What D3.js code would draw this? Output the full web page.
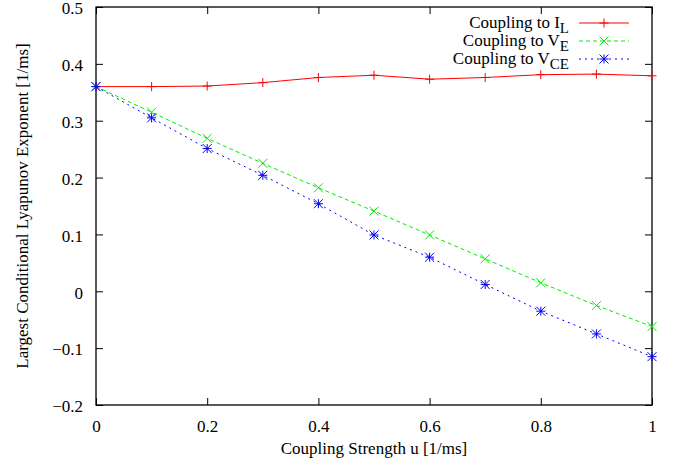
<!DOCTYPE html>
<html>
<head>
<meta charset="utf-8">
<script src="https://cdn.jsdelivr.net/npm/d3@7"></script>
<style>
  body { margin: 0; background: #fff; }
</style>
</head>
<body>
<div id="chart"></div>
<script>
// data
const uValues = [0, 0.1, 0.2, 0.3, 0.4, 0.5, 0.6, 0.7, 0.8, 0.9, 1.0];
const couplingIL = [0.360, 0.360, 0.361, 0.367, 0.376, 0.380, 0.373, 0.376, 0.381, 0.382, 0.379];
const couplingVE = [0.360, 0.315, 0.269, 0.225, 0.182, 0.141, 0.099, 0.057, 0.015, -0.025, -0.062];
const couplingVCE = [0.360, 0.305, 0.251, 0.204, 0.154, 0.099, 0.060, 0.012, -0.035, -0.075, -0.115];
const xTicks = [0, 0.2, 0.4, 0.6, 0.8, 1];
const yTicks = [-0.2, -0.1, 0, 0.1, 0.2, 0.3, 0.4, 0.5];

const width = 673, height = 465;
const margin = { top: 7, right: 21, bottom: 60, left: 96 };
const FONT = "'Liberation Serif', 'Times New Roman', serif";
const fontSize = 17;

const svg = d3.select("#chart")
  .append("svg")
  .attr("width", width)
  .attr("height", height);

const x = d3.scaleLinear().domain([0, 1]).range([margin.left, width - margin.right]);
const y = d3.scaleLinear().domain([-0.2, 0.5]).range([height - margin.bottom, margin.top]);

const tickLen = 7;

// ticks on all four sides (gnuplot mirrors them)
svg.append("g")
  .attr("transform", `translate(0,${y(-0.2)})`)
  .call(d3.axisBottom(x).tickValues(xTicks).tickSizeInner(-tickLen).tickSizeOuter(0).tickPadding(15)
    .tickFormat(d => d === 0 || d === 1 ? d3.format("d")(d) : d3.format(".1f")(d)))
  .attr("font-family", FONT).attr("font-size", fontSize)
  .call(g => g.select(".domain").remove())
  .call(g => g.selectAll("text").style("font-family", FONT).style("font-size", fontSize + "px").attr("fill", "#000"));

svg.append("g")
  .attr("transform", `translate(0,${y(0.5)})`)
  .call(d3.axisTop(x).tickValues(xTicks).tickSizeInner(-tickLen).tickSizeOuter(0).tickFormat(""))
  .call(g => g.select(".domain").remove());

svg.append("g")
  .attr("transform", `translate(${x(0)},0)`)
  .call(d3.axisLeft(y).tickValues(yTicks).tickSizeInner(-tickLen).tickSizeOuter(0).tickPadding(13)
    .tickFormat(d => Math.abs(d) < 1e-9 ? "0" : d3.format(".1f")(d)))
  .attr("font-family", FONT).attr("font-size", fontSize)
  .call(g => g.select(".domain").remove())
  .call(g => g.selectAll("text").attr("dy", "0.4em")
    .style("font-family", FONT).style("font-size", fontSize + "px").attr("fill", "#000"));

svg.append("g")
  .attr("transform", `translate(${x(1)},0)`)
  .call(d3.axisRight(y).tickValues(yTicks).tickSizeInner(-tickLen).tickSizeOuter(0).tickFormat(""))
  .call(g => g.select(".domain").remove());

svg.selectAll(".tick line").attr("stroke", "#000");

// border
svg.append("rect")
  .attr("x", x(0)).attr("y", y(0.5))
  .attr("width", x(1) - x(0)).attr("height", y(-0.2) - y(0.5))
  .attr("fill", "none").attr("stroke", "#000").attr("stroke-width", 1.3);

// axis labels
svg.append("text")
  .attr("x", (x(0) + x(1)) / 2)
  .attr("y", 454)
  .attr("text-anchor", "middle")
  .style("font-family", FONT).style("font-size", fontSize + "px")
  .text("Coupling Strength u [1/ms]");

svg.append("text")
  .attr("transform", `translate(28,${(y(0.5) + y(-0.2)) / 2}) rotate(-90)`)
  .attr("text-anchor", "middle")
  .style("font-family", FONT).style("font-size", fontSize + "px")
  .text("Largest Conditional Lyapunov Exponent [1/ms]");

// markers
function drawMarker(g, type, cx, cy, color) {
  const s = 4.5;
  const segs = [];
  if (type === "plus" || type === "star") segs.push([-s, 0, s, 0], [0, -s, 0, s]);
  if (type === "cross" || type === "star") segs.push([-s, -s, s, s], [-s, s, s, -s]);
  segs.forEach(p => {
    g.append("line")
      .attr("x1", cx + p[0]).attr("y1", cy + p[1])
      .attr("x2", cx + p[2]).attr("y2", cy + p[3])
      .attr("stroke", color).attr("stroke-width", 1);
  });
}

const series = [
  { name: "I", sub: "L", values: couplingIL, color: "#ff0000", dash: null, marker: "plus" },
  { name: "V", sub: "E", values: couplingVE, color: "#00ee00", dash: "4,3", marker: "cross" },
  { name: "V", sub: "CE", values: couplingVCE, color: "#0000ff", dash: "2,4", marker: "star" }
];

const line = d3.line().x(d => x(d[0])).y(d => y(d[1]));

series.forEach(s => {
  const pts = uValues.map((u, i) => [u, s.values[i]]);
  svg.append("path")
    .datum(pts)
    .attr("d", line)
    .attr("fill", "none")
    .attr("stroke", s.color)
    .attr("stroke-width", 1)
    .attr("stroke-dasharray", s.dash);
  const g = svg.append("g");
  pts.forEach(p => drawMarker(g, s.marker, x(p[0]), y(p[1]), s.color));
});

// legend
const legendTextRight = 569;
const legendRows = [23, 41, 59];
series.forEach((s, i) => {
  const ly = legendRows[i];
  const t = svg.append("text")
    .attr("x", legendTextRight)
    .attr("y", ly + 5)
    .attr("text-anchor", "end")
    .style("font-family", FONT).style("font-size", fontSize + "px");
  t.append("tspan").text("Coupling to " + s.name);
  t.append("tspan").attr("dy", 5).style("font-size", "15px").text(s.sub);
  svg.append("line")
    .attr("x1", 579).attr("x2", 629)
    .attr("y1", ly).attr("y2", ly)
    .attr("stroke", s.color).attr("stroke-width", 1)
    .attr("stroke-dasharray", s.dash);
  drawMarker(svg, s.marker, 604, ly, s.color);
});
</script>
</body>
</html>
